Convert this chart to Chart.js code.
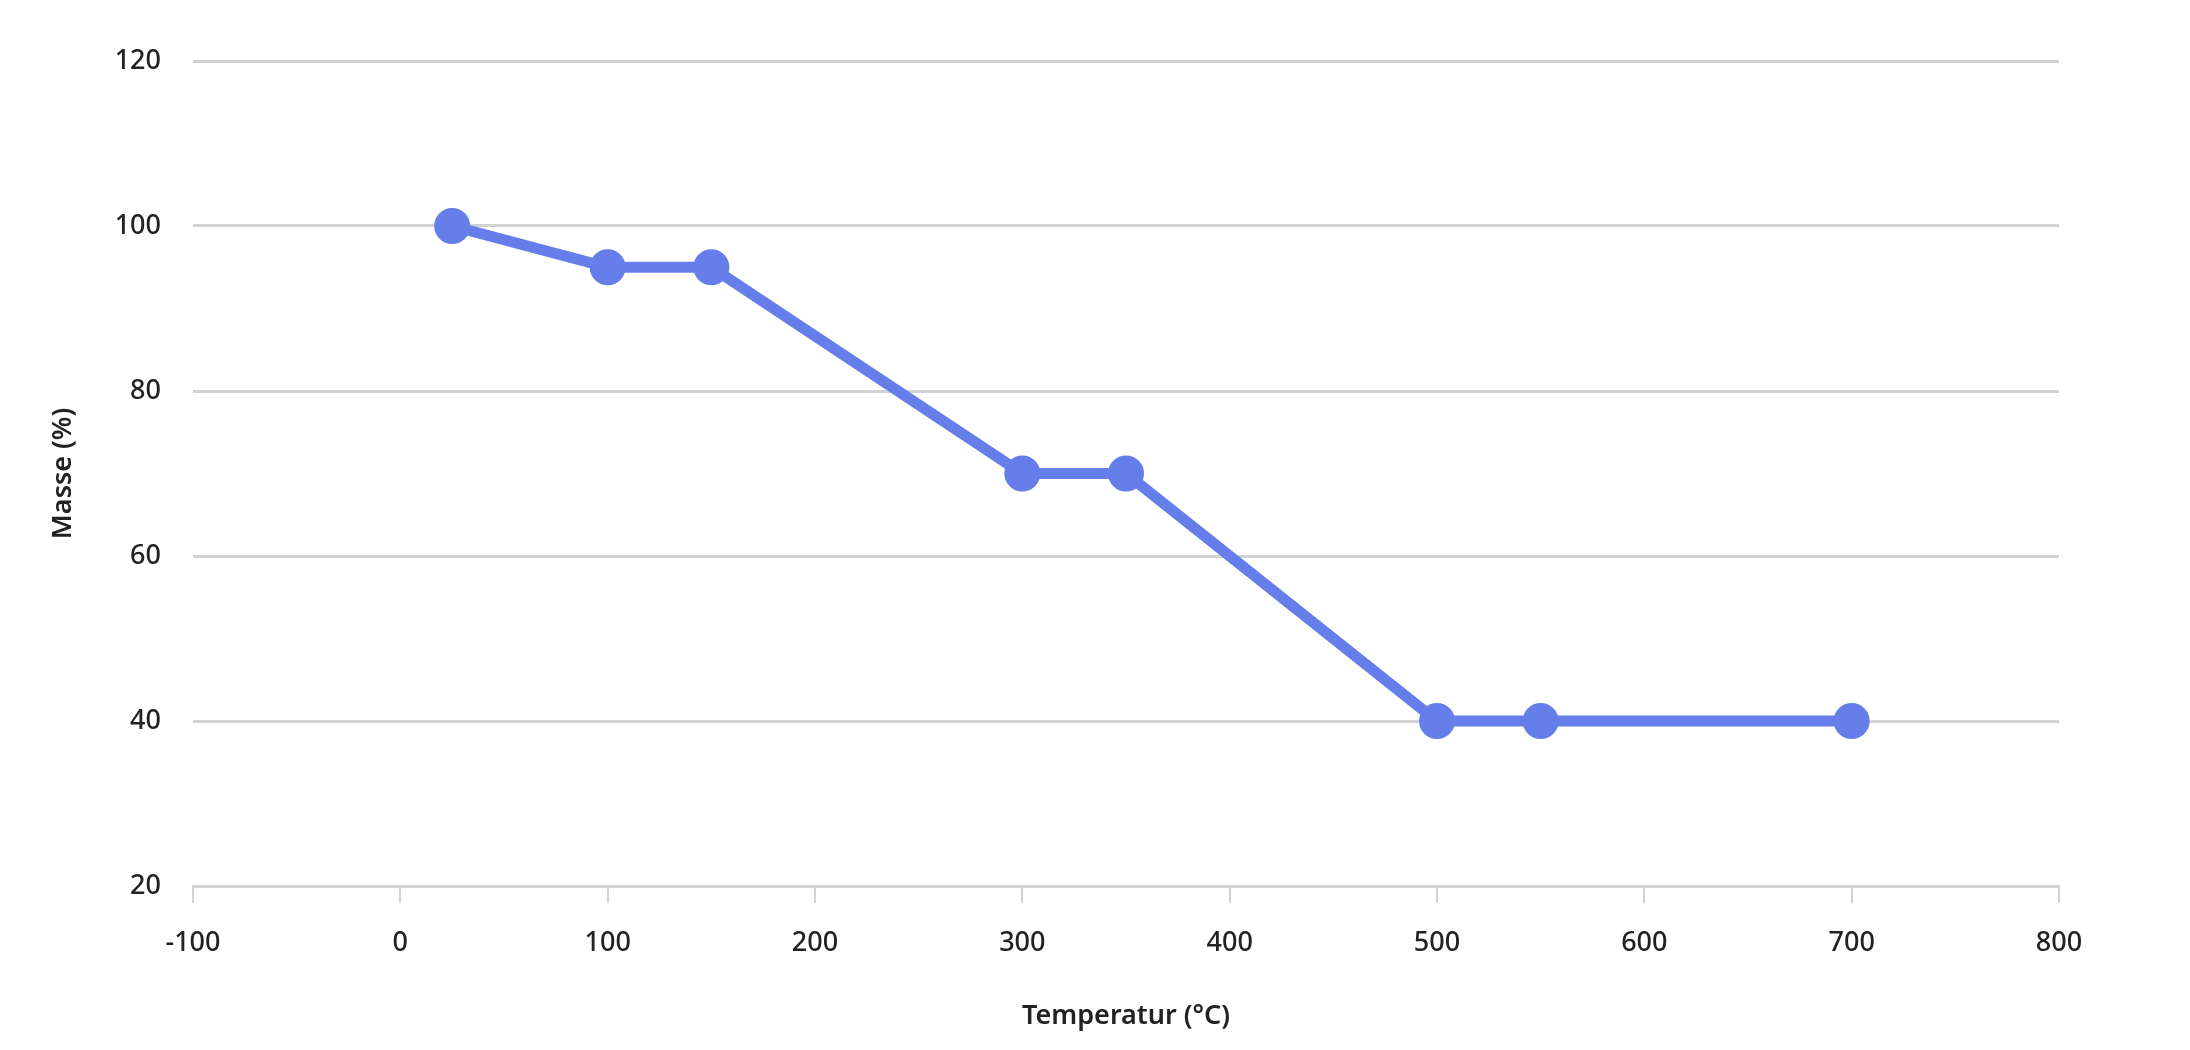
<!DOCTYPE html>
<html>
<head>
<meta charset="utf-8">
<script src="https://cdn.jsdelivr.net/npm/chart.js@4/dist/chart.umd.min.js"></script>
<style>
    html, body { margin: 0; padding: 0; background: #fff; }
    canvas { display: block; }
</style>
</head>
<body>
<canvas id="massChart" width="2190" height="1050"></canvas>
<script>
// Valeurs
const temperatures = [25, 100, 150, 300, 350, 500, 550, 700];
const masses = [100, 95, 95, 70, 70, 40, 40, 40];
const xTicks = [-100, 0, 100, 200, 300, 400, 500, 600, 700, 800];
const yTicks = [20, 40, 60, 80, 100, 120];

const points = temperatures.map((t, i) => ({ x: t, y: masses[i] }));
const tickFont = { family: 'Noto Sans', size: 27, weight: 500 };
const titleFont = { family: 'Noto Sans', size: 27, weight: 600 };
const gridColor = '#d3d3d3';

new Chart(document.getElementById('massChart'), {
    type: 'line',
    data: {
        datasets: [{
            label: 'Masse',
            data: points,
            borderColor: '#667eea',
            backgroundColor: '#667eea',
            borderWidth: 11,
            pointRadius: 17,
            pointBorderWidth: 2,
            pointBackgroundColor: '#667eea',
            pointBorderColor: '#667eea',
            tension: 0,
            fill: false
        }]
    },
    options: {
        responsive: false,
        devicePixelRatio: 1,
        animation: false,
        layout: { padding: { top: 61, right: 131, left: 0, bottom: 0 } },
        plugins: {
            legend: { display: false },
            tooltip: { enabled: false }
        },
        scales: {
            x: {
                type: 'linear',
                min: -100,
                max: 800,
                afterBuildTicks: scale => { scale.ticks = xTicks.map(v => ({ value: v })); },
                afterFit: scale => { scale.height = 164; },
                grid: {
                    drawOnChartArea: false,
                    drawTicks: true,
                    tickLength: 17,
                    color: gridColor,
                    lineWidth: 2
                },
                border: { display: true, color: gridColor, width: 3 },
                ticks: { color: '#222', font: tickFont, padding: 24, maxRotation: 0 },
                title: {
                    display: true,
                    text: 'Temperatur (°C)',
                    color: '#222',
                    font: titleFont,
                    padding: { top: 0, bottom: 17 }
                }
            },
            y: {
                min: 20,
                max: 120,
                afterBuildTicks: scale => { scale.ticks = yTicks.map(v => ({ value: v })); },
                afterFit: scale => { scale.width = 193; },
                grid: {
                    drawTicks: false,
                    color: gridColor,
                    lineWidth: 3
                },
                border: { display: false },
                ticks: { color: '#222', font: tickFont, padding: 32 },
                title: {
                    display: true,
                    text: 'Masse (%)',
                    color: '#222',
                    font: titleFont,
                    padding: { top: 47, bottom: 0 }
                }
            }
        }
    }
});
</script>
</body>
</html>
